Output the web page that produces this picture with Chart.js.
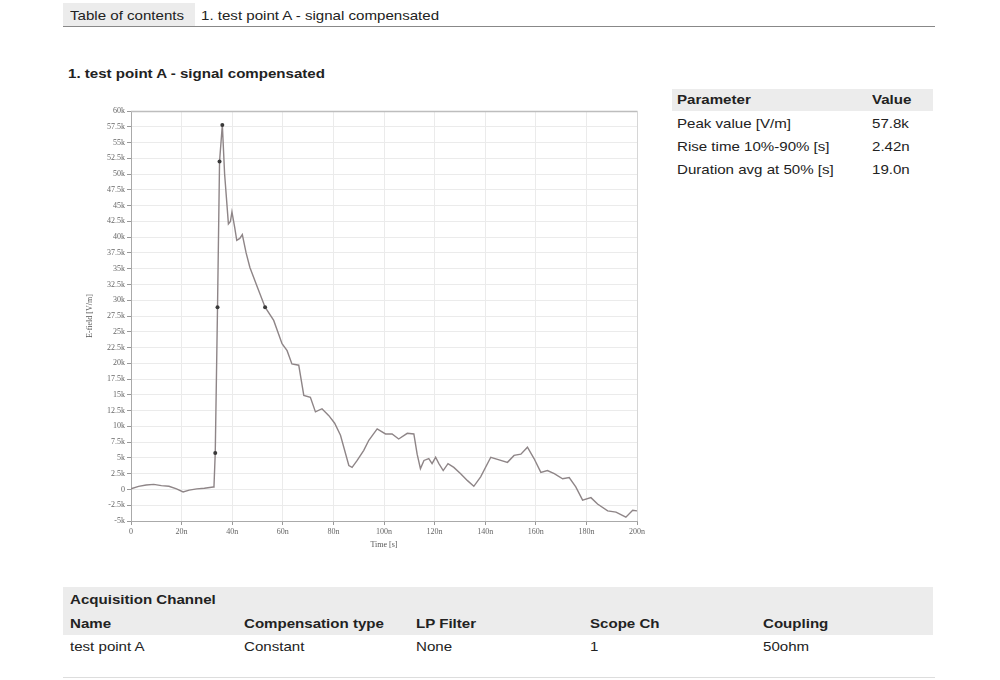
<!DOCTYPE html>
<html>
<head>
<meta charset="utf-8">
<script src="https://cdn.jsdelivr.net/npm/chart.js@4.4.0/dist/chart.umd.min.js"></script>
<style>
    body { margin: 0; background: #fff; font-family: "Liberation Sans", Arial, sans-serif; color: #222; }
    .page { position: relative; width: 1000px; height: 680px; overflow: hidden; }
    .abs { position: absolute; white-space: nowrap; font-size: 13px; line-height: 16px; transform: scaleX(1.16); transform-origin: 0 0; }
    .bold { font-weight: bold; }
    .gray { position: absolute; background: #ececec; }
    .rule { position: absolute; height: 1px; background: #9a9a9a; }
    #chartBox { position: absolute; left: 70px; top: 100px; width: 580px; height: 460px; }
</style>
</head>
<body>
<div class="page">
    <!-- header -->
    <div class="gray" style="left:63px; top:3px; width:132px; height:23px;"></div>
    <div class="abs" style="left:70px; top:8px;">Table of contents</div>
    <div class="abs" style="left:201px; top:8px;">1. test point A - signal compensated</div>
    <div class="rule" style="left:63px; top:26px; width:872px; background:#888;"></div>

    <div class="abs bold" style="left:68px; top:66px;">1. test point A - signal compensated</div>

    <!-- chart -->
    <div id="chartBox"><canvas id="fieldChart"></canvas></div>

    <!-- parameter table -->
    <div class="gray" style="left:672px; top:89px; width:261px; height:22px;"></div>
    <div class="abs bold" style="left:677px; top:92px;">Parameter</div>
    <div class="abs bold" style="left:872px; top:92px;">Value</div>
    <div class="abs" style="left:677px; top:116px;">Peak value [V/m]</div>
    <div class="abs" style="left:872px; top:116px;">57.8k</div>
    <div class="abs" style="left:677px; top:139px;">Rise time 10%-90% [s]</div>
    <div class="abs" style="left:872px; top:139px;">2.42n</div>
    <div class="abs" style="left:677px; top:162px;">Duration avg at 50% [s]</div>
    <div class="abs" style="left:872px; top:162px;">19.0n</div>

    <!-- acquisition channel -->
    <div class="gray" style="left:63px; top:587px; width:870px; height:48px;"></div>
    <div class="abs bold" style="left:70px; top:592px;">Acquisition Channel</div>
    <div class="abs bold" style="left:70px; top:616px;">Name</div>
    <div class="abs bold" style="left:244px; top:616px;">Compensation type</div>
    <div class="abs bold" style="left:416px; top:616px;">LP Filter</div>
    <div class="abs bold" style="left:590px; top:616px;">Scope Ch</div>
    <div class="abs bold" style="left:763px; top:616px;">Coupling</div>
    <div class="abs" style="left:70px; top:639px;">test point A</div>
    <div class="abs" style="left:244px; top:639px;">Constant</div>
    <div class="abs" style="left:416px; top:639px;">None</div>
    <div class="abs" style="left:590px; top:639px;">1</div>
    <div class="abs" style="left:763px; top:639px;">50ohm</div>
    <div class="rule" style="left:63px; top:677px; width:872px; background:#ddd;"></div>
</div>

<script>
// waveform, time in ns, field in kV/m
const timeNs = [0, 3, 6, 9, 12, 15, 18, 20.6, 23, 26, 29, 32.5, 32.8, 33.3, 34.2, 35.0, 36.1, 37.0, 38.5, 39.3, 39.9, 41.0, 41.8, 43.0, 44.0, 45.5, 47.0, 50, 53, 56.4, 59.7, 61.7, 63.6, 66.3, 68.3, 70.9, 72.9, 75.5, 78.2, 80.5, 82.8, 86.1, 87.4, 89.4, 92, 94, 97.3, 100.6, 103.2, 105.8, 109.2, 111.8, 113.1, 114.4, 115.8, 117.7, 119, 120.4, 121.7, 123.4, 125.3, 127.6, 130.3, 133, 135.5, 138.2, 142.2, 145.5, 148.8, 151.4, 154.1, 156.7, 159.3, 162, 164.6, 167.3, 170.6, 173.2, 175.8, 178.5, 181.8, 184.4, 188.4, 191.7, 195.6, 198.3, 200];
const fieldK = [0.1, 0.5, 0.7, 0.8, 0.6, 0.5, 0.1, -0.4, -0.1, 0.1, 0.2, 0.4, 0.5, 5.8, 28.9, 52.0, 57.8, 50.0, 42.1, 42.5, 44.0, 41.5, 39.5, 39.8, 40.4, 37.5, 35.2, 32.0, 28.9, 26.8, 23.1, 22.0, 19.9, 19.7, 14.9, 14.6, 12.3, 12.8, 11.7, 10.5, 8.6, 3.8, 3.5, 4.6, 6.2, 7.8, 9.6, 8.8, 8.8, 8.0, 8.9, 8.8, 5.6, 3.3, 4.6, 4.9, 4.1, 5.1, 4.1, 3.0, 4.1, 3.5, 2.5, 1.4, 0.5, 2.0, 5.1, 4.7, 4.3, 5.4, 5.6, 6.7, 4.9, 2.7, 3.0, 2.5, 1.7, 1.9, 0.4, -1.7, -1.3, -2.3, -3.4, -3.6, -4.4, -3.3, -3.4];

// 10%, 50%, 90%, peak, 50% fall
const markerTimeNs = [33.3, 34.2, 35.0, 36.1, 53.0];
const markerFieldK = [5.8, 28.9, 52.0, 57.8, 28.9];

const xMin = 0, xMax = 200, xStep = 20;
const yMin = -5, yMax = 60, yStep = 2.5;

function toPoints(xs, ys) {
    return xs.map((x, i) => ({ x: x, y: ys[i] }));
}

// -----------------------------
// frame around plot area
// -----------------------------
const framePlugin = {
    id: "frame",
    afterDraw(chart) {
        const { ctx, chartArea } = chart;
        ctx.save();
        ctx.strokeStyle = "#bdbdbd";
        ctx.lineWidth = 1.5;
        ctx.beginPath();
        ctx.moveTo(chartArea.left, chartArea.top + 0.5);
        ctx.lineTo(chartArea.right + 0.5, chartArea.top + 0.5);
        ctx.stroke();
        ctx.lineWidth = 1;
        ctx.strokeStyle = "#d6d6d6";
        ctx.beginPath();
        ctx.moveTo(chartArea.right + 0.5, chartArea.top);
        ctx.lineTo(chartArea.right + 0.5, chartArea.bottom);
        ctx.stroke();
        ctx.restore();
    },
};

const tickFont = { family: "Liberation Serif, serif", size: 8 };

new Chart(document.getElementById("fieldChart"), {
    type: "line",
    data: {
        datasets: [
            {
                label: "markers",
                data: toPoints(markerTimeNs, markerFieldK),
                showLine: false,
                pointRadius: 2,
                pointBackgroundColor: "#3a3a3a",
                pointBorderWidth: 0,
                order: 0,
            },
            {
                label: "E-field",
                data: toPoints(timeNs, fieldK),
                borderColor: "#8e8587",
                borderWidth: 1.4,
                pointRadius: 0,
                tension: 0,
                fill: false,
                order: 1,
            },
        ],
    },
    options: {
        responsive: true,
        maintainAspectRatio: false,
        animation: false,
        layout: { padding: { top: 11, right: 13, bottom: 10, left: 15 } },
        plugins: {
            legend: { display: false },
            tooltip: { enabled: false },
        },
        scales: {
            x: {
                type: "linear",
                min: xMin,
                max: xMax,
                ticks: {
                    stepSize: xStep,
                    color: "#666",
                    font: tickFont,
                    padding: 2,
                    maxRotation: 0,
                    callback: (v) => (v === 0 ? "0" : v + "n"),
                },
                grid: { color: "#ebebeb", tickLength: 4, tickColor: "#999" },
                border: { color: "#aaa" },
                title: { display: true, text: "Time [s]", color: "#555", font: tickFont, padding: 0 },
                afterFit: (scale) => { scale.height = 29; },
            },
            y: {
                min: yMin,
                max: yMax,
                ticks: {
                    stepSize: yStep,
                    color: "#666",
                    font: tickFont,
                    padding: 2,
                    callback: (v) => (v === 0 ? "0" : v + "k"),
                },
                grid: { color: "#ebebeb", tickLength: 4, tickColor: "#999" },
                border: { color: "#aaa" },
                title: { display: true, text: "E-field [V/m]", color: "#555", font: tickFont, padding: 0 },
                afterFit: (scale) => { scale.width = 46; },
            },
        },
    },
    plugins: [framePlugin],
});
</script>
</body>
</html>
